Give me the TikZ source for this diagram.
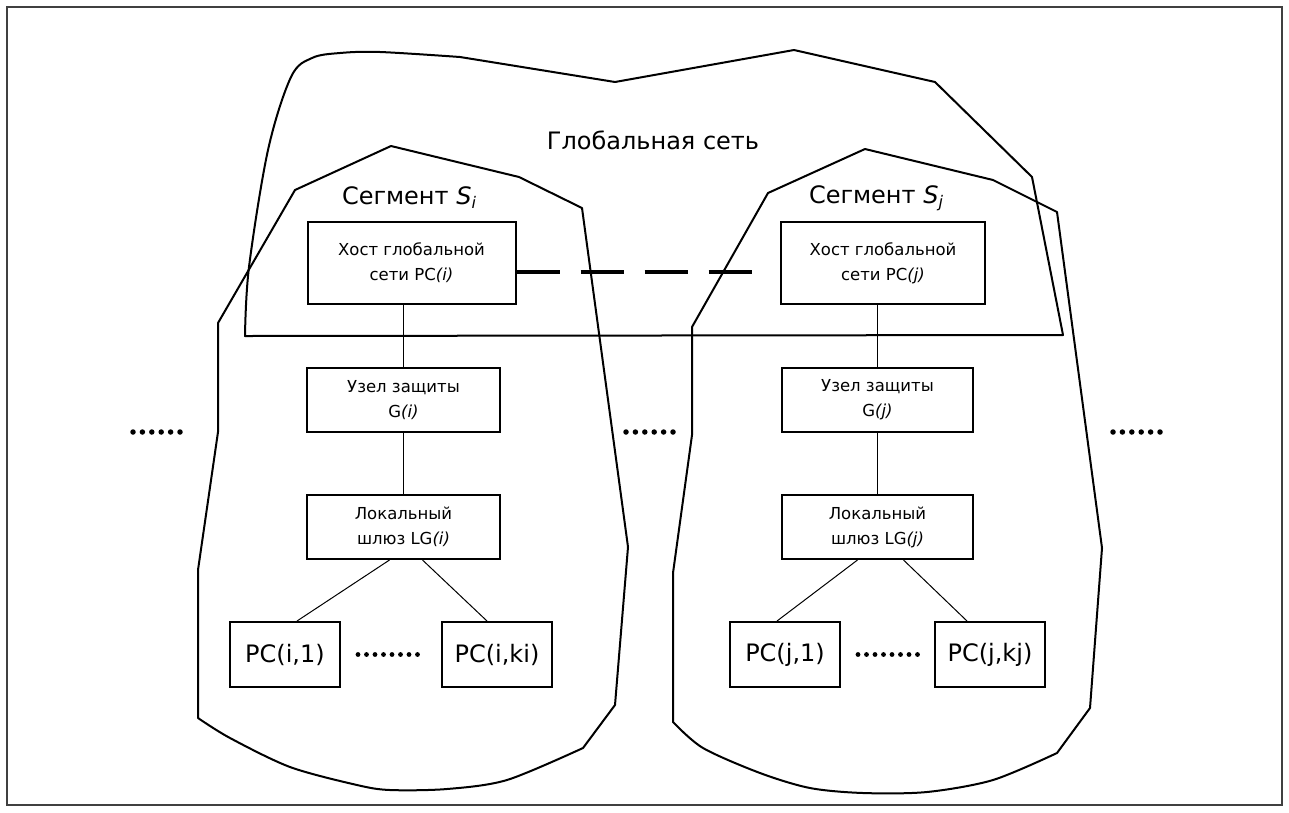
\documentclass[tikz,border=0pt]{standalone}
\usepackage{fontspec}
\setmainfont{DejaVu Sans}
\usetikzlibrary{positioning, calc}

\newcommand{\idx}[1]{\raisebox{-0.3ex}{\fontsize{16}{16}\selectfont\textit{#1}}}

\begin{document}
\begin{tikzpicture}[x=1pt,y=-1pt,
  bloc/.style={draw, line width=2pt, align=center, inner sep=0pt, font=\fontsize{16.5}{25}\selectfont},
  pc/.style={draw, line width=2pt, minimum width=110pt, minimum height=65pt, inner sep=0pt, font=\fontsize{24}{28}\selectfont},
  titre/.style={font=\fontsize{24}{28}\selectfont},
  zone/.style={line width=2pt, line join=round},
  lien/.style={line width=1pt},
  points/.style={line width=5.5pt, line cap=round, dash pattern=on 0pt off 9.4pt},
  petits/.style={line width=4.8pt, line cap=round, dash pattern=on 0pt off 8.5pt}]
\useasboundingbox (0,0) rectangle (1289,812);
\draw[line width=1.3pt, black!75] (7,7) rectangle (1282,805);

% global network
\draw[zone] plot[smooth, tension=0.55] coordinates {(245,336) (249,267) (268,150) (291,77) (312,58) (340,53) (380,52) (460,57)}
  -- (615,82) -- (794,50) -- (935,82) -- (1032,177) -- (1063,335) -- cycle;
\node[titre] (Glob) at (653,140) {Глобальная сеть};

% segment i
\draw[zone] (391,146) -- (519,177) -- (582,208) -- (628,547) -- (615,705) -- (583,748)
  -- plot[smooth] coordinates {(583,748) (507,780) (447,789) (390,790) (357,785) (290,767) (230,738) (198,718)}
  -- (198,570) -- (218,432) -- (218,323) -- (295,190) -- cycle;
\node[titre] (Seg1) at (409,198) {Сегмент \textit{S}\idx{i}};
\node[bloc, minimum width=208pt, minimum height=82pt] (Host1) at (411.5,263) {Хост глобальной\\сети PC\textit{(i)}};
\node[bloc, minimum width=193pt, minimum height=64pt] (G1) at (403.5,400) {Узел защиты\\G\textit{(i)}};
\node[bloc, minimum width=193pt, minimum height=64pt] (LG1) at (403.5,527) {Локальный\\шлюз LG\textit{(i)}};
\node[pc] (PC11) at (285,654.5) {PC(i,1)};
\node[pc] (PC12) at (497,654.5) {PC(i,ki)};
\draw[lien] (G1.north |- Host1.south) -- (G1.north);
\draw[lien] (G1) -- (LG1);
\draw[lien] ([xshift=-14pt]LG1.south) -- ([xshift=12pt]PC11.north);
\draw[lien] ([xshift=19pt]LG1.south) -- ([xshift=-10pt]PC12.north);
\draw[petits] ([xshift=17pt]PC11.east) -- ([xshift=-23.5pt]PC12.west);

% segment j
\draw[zone] (865,149) -- (993,180) -- (1057,212) -- (1102,548) -- (1090,708) -- (1057,753)
  -- plot[smooth] coordinates {(1057,753) (993,780) (927,792) (863,793) (810,788) (760,773) (703,748) (673,722)}
  -- (673,573) -- (692,435) -- (692,327) -- (768,193) -- cycle;
\node[titre] (Seg2) at (876,198) {Сегмент \textit{S}\idx{j}};
\node[bloc, minimum width=204pt, minimum height=82pt] (Host2) at (883,263) {Хост глобальной\\сети PC\textit{(j)}};
\node[bloc, minimum width=191pt, minimum height=64pt] (G2) at (877.5,400) {Узел защиты\\G\textit{(j)}};
\node[bloc, minimum width=191pt, minimum height=64pt] (LG2) at (877.5,527) {Локальный\\шлюз LG\textit{(j)}};
\node[pc] (PC21) at (785,654.5) {PC(j,1)};
\node[pc] (PC22) at (990,654.5) {PC(j,kj)};
\draw[lien] (G2.north |- Host2.south) -- (G2.north);
\draw[lien] (G2) -- (LG2);
\draw[lien] ([xshift=-20pt]LG2.south) -- ([xshift=-8pt]PC21.north);
\draw[lien] ([xshift=26pt]LG2.south) -- ([xshift=-23pt]PC22.north);
\draw[petits] ([xshift=17pt]PC21.east) -- ([xshift=-16pt]PC22.west);

% link between hosts
\coordinate (Fin) at (752,272);
\draw[line width=4.5pt, dash pattern=on 43pt off 21pt] ([yshift=-9pt]Host1.east) -- (Fin);

% other segments
\coordinate (P1) at (133,432);
\coordinate (P2) at (180.5,432);
\coordinate (P3) at (626,432);
\coordinate (P4) at (673.5,432);
\coordinate (P5) at (1113,432);
\coordinate (P6) at (1160.5,432);
\draw[points] (P1) -- (P2);
\draw[points] (P3) -- (P4);
\draw[points] (P5) -- (P6);
\end{tikzpicture}
\end{document}
